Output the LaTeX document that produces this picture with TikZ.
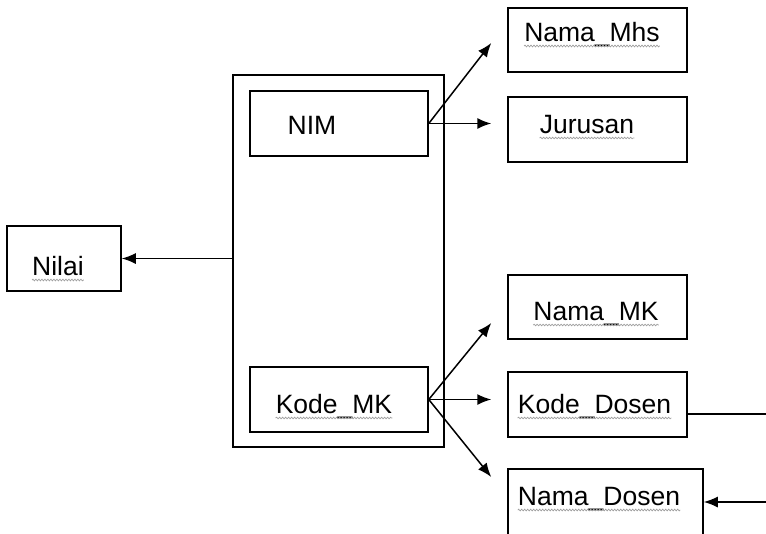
\documentclass[tikz,border=0pt]{standalone}
\usepackage{fontspec}
\setmainfont{Liberation Sans}
\usetikzlibrary{arrows.meta,calc,decorations.pathmorphing}
\begin{document}
\begin{tikzpicture}[x=1pt,y=-1pt,
  box/.style={draw,line width=1.5pt,rectangle,inner sep=0pt},
  lbl/.style={font=\fontsize{26.5}{30}\selectfont,inner sep=0pt,anchor=base},
  conn/.style={line width=1.5pt,-{Latex[length=14pt,width=11pt]}},
  plain/.style={line width=1.5pt},
  wavyline/.style={gray!75,line width=0.7pt,decorate,decoration={snake,segment length=3pt,amplitude=0.8pt}}]
\useasboundingbox (0,0) rectangle (766,533);
\clip (0,0) rectangle (766,533);
\fill[white] (0,0) rectangle (766,533);
% boxes
\node[box,minimum width=211,minimum height=372] (outer) at (338.5,261) {};
\node[box,minimum width=178,minimum height=65] (nim) at (339,123.5) {};
\node[box,minimum width=178,minimum height=65] (kmk) at (339,399.5) {};
\node[box,minimum width=114,minimum height=65] (nilai) at (64,258.5) {};
\node[box,minimum width=179,minimum height=64] (mhs) at (597.5,40) {};
\node[box,minimum width=179,minimum height=65] (jur) at (597.5,129.5) {};
\node[box,minimum width=179,minimum height=64] (nmk) at (597.5,307) {};
\node[box,minimum width=179,minimum height=65] (kds) at (597.5,404.5) {};
\node[box,minimum width=195,minimum height=80] (nds) at (605.5,509) {};
% labels
\node[lbl] (tnim) at (312,134) {NIM};
\node[lbl] (tkmk) at (334,413) {Kode\_MK};
\node[lbl] (tnilai) at (58,275) {Nilai};
\node[lbl] (tmhs) at (592,41) {Nama\_Mhs};
\node[lbl] (tjur) at (587,133) {Jurusan};
\node[lbl] (tnmk) at (596,320) {Nama\_MK};
\node[lbl] (tkds) at (594.5,413) {Kode\_Dosen};
\node[lbl] (tnds) at (599,505) {Nama\_Dosen};
\foreach \t in {tkmk,tnilai,tmhs,tjur,tnmk,tkds,tnds}
  \draw[wavyline] ($(\t.base west)+(0,5)$) -- ($(\t.base east)+(0,5)$);
% connectors
\coordinate (e1) at ($(mhs.west)+(-16,3)$);
\coordinate (e2) at ($(jur.west |- nim.east)+(-16,0)$);
\coordinate (e3) at ($(nmk.west)+(-16,16)$);
\coordinate (e4) at ($(kds.west |- kmk.east)+(-16,0)$);
\coordinate (e5) at ($(nds.west)+(-16,-32)$);
\draw[conn] (outer.west |- nilai.east) -- (nilai.east);
\draw[conn] (nim.east) -- (e1);
\draw[conn] (nim.east) -- (e2);
\draw[conn] (kmk.east) -- (e3);
\draw[conn] (kmk.east) -- (e4);
\draw[conn] (kmk.east) -- (e5);
\coordinate (r1) at (766,414);
\coordinate (r2) at (766,502);
\draw[plain] (kds.east |- r1) -- (r1);
\draw[conn] (r2) -- (nds.east |- r2);
\end{tikzpicture}
\end{document}
